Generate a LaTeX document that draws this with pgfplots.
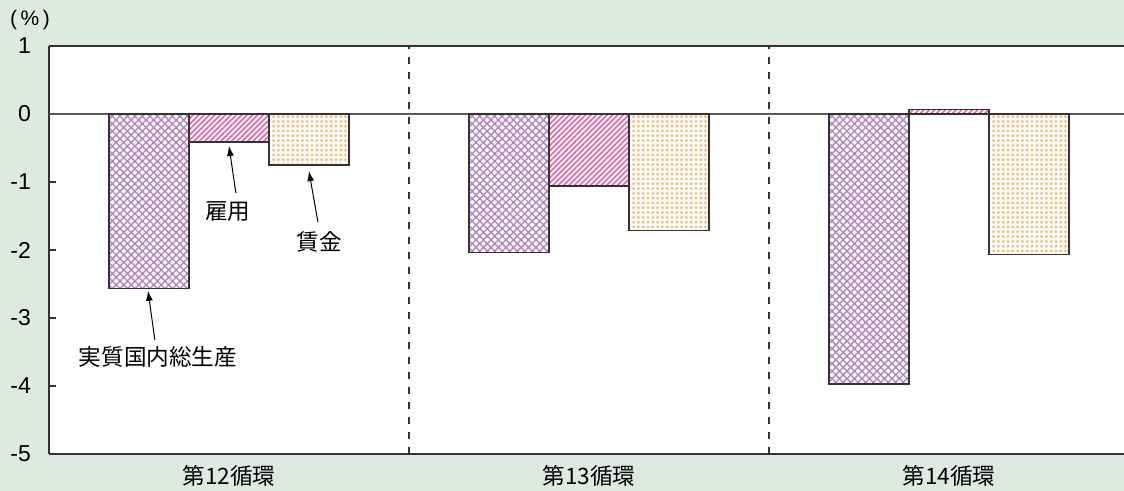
\documentclass[border=0pt]{standalone}
\usepackage{fontspec}
\setmainfont{Liberation Sans}
\newfontfamily\jp{Noto Sans CJK JP}
\usepackage{pgfplots}
\pgfplotsset{compat=1.18}
\usetikzlibrary{patterns,patterns.meta,arrows.meta}
\definecolor{bg}{RGB}{221,234,226}
\definecolor{axisc}{RGB}{50,50,50}
\definecolor{purp}{RGB}{178,132,192}
\definecolor{pinkc}{RGB}{232,95,165}
\definecolor{orangec}{RGB}{250,185,115}
\begin{document}
\begin{tikzpicture}
\fill[bg] (-24.5pt,-18.5pt) rectangle (537.5pt,227pt);
\begin{axis}[at={(0,0)}, anchor=south west, scale only axis,
  width=537.5pt, height=204pt,
  xmin=-0.5, xmax=2.486, ymin=-5, ymax=1,
  axis x line*=bottom, axis y line*=left,
  axis line style={draw=axisc, line width=0.6pt, -},
  axis background/.style={fill=white},
  xtick={0,1,2}, xticklabels={第12循環,第13循環,第14循環},
  xtick style={draw=none},
  ytick={-5,-4,-3,-2,-1,0,1}, yticklabels={-5,-4,-3,-2,-1,0,1},
  tick align=inside, major tick length=3.5pt,
  ytick style={draw=axisc, line width=0.6pt},
  xticklabel style={font=\jp\fontsize{11.3}{13}\selectfont, text=black, yshift=-2pt},
  yticklabel style={font=\fontsize{11.5}{13}\selectfont, text=black, anchor=east, xshift=-5.5pt},
  clip=false,
]
\draw[axisc, line width=0.6pt] (rel axis cs:0,1) -- (rel axis cs:1,1);
\addplot[black!65, line width=0.6pt, forget plot] coordinates {(-0.5,0) (2.486,0)};
\addplot[axisc, line width=0.6pt, dash pattern=on 3.7pt off 3.8pt, forget plot] coordinates {(0.5,-5) (0.5,1)};
\addplot[axisc, line width=0.6pt, dash pattern=on 3.7pt off 3.8pt, forget plot] coordinates {(1.5,-5) (1.5,1)};
% GDP
\addplot[ybar, bar width=40pt, bar shift=-40pt, draw=axisc, line width=0.7pt,
  pattern={Hatch[angle=45, distance=2.65pt, line width=0.7pt]}, pattern color=purp]
  coordinates {(0,-2.57) (1,-2.04) (2,-3.97)};
% Employment
\addplot[ybar, bar width=40pt, bar shift=0pt, draw=axisc, line width=0.7pt,
  pattern={Lines[angle=45, distance=1.9pt, line width=0.8pt]}, pattern color=pinkc]
  coordinates {(0,-0.41) (1,-1.06) (2,0.065)};
% Wages
\addplot[ybar, bar width=40pt, bar shift=40pt, draw=axisc, line width=0.7pt,
  pattern={Dots[distance=2.4pt, radius=0.8pt]}, pattern color=orangec]
  coordinates {(0,-0.75) (1,-1.71) (2,-2.07)};
% annotations
\node[font=\jp\fontsize{11.3}{13}\selectfont] at (axis cs:-0.003,-1.44) {雇用};
\draw[-{Latex[length=5pt,width=3.5pt]}, black, line width=0.5pt] (axis cs:0.019,-1.16) -- (axis cs:0,-0.47);
\node[font=\jp\fontsize{11.3}{13}\selectfont] at (axis cs:0.25,-1.88) {賃金};
\draw[-{Latex[length=5pt,width=3.5pt]}, black, line width=0.5pt] (axis cs:0.247,-1.59) -- (axis cs:0.222,-0.84);
\node[font=\jp\fontsize{11.3}{13}\selectfont] at (axis cs:-0.197,-3.57) {実質国内総生産};
\draw[-{Latex[length=5pt,width=3.5pt]}, black, line width=0.5pt] (axis cs:-0.206,-3.32) -- (axis cs:-0.225,-2.60);
\end{axis}
\node[font=\fontsize{10.5}{12}\selectfont, inner sep=0pt] at (-9.5pt,217pt) {(\,\%\,)};
\pgfresetboundingbox
\path (-24.5pt,-18.5pt) rectangle (537.5pt,227pt);
\end{tikzpicture}
\end{document}
